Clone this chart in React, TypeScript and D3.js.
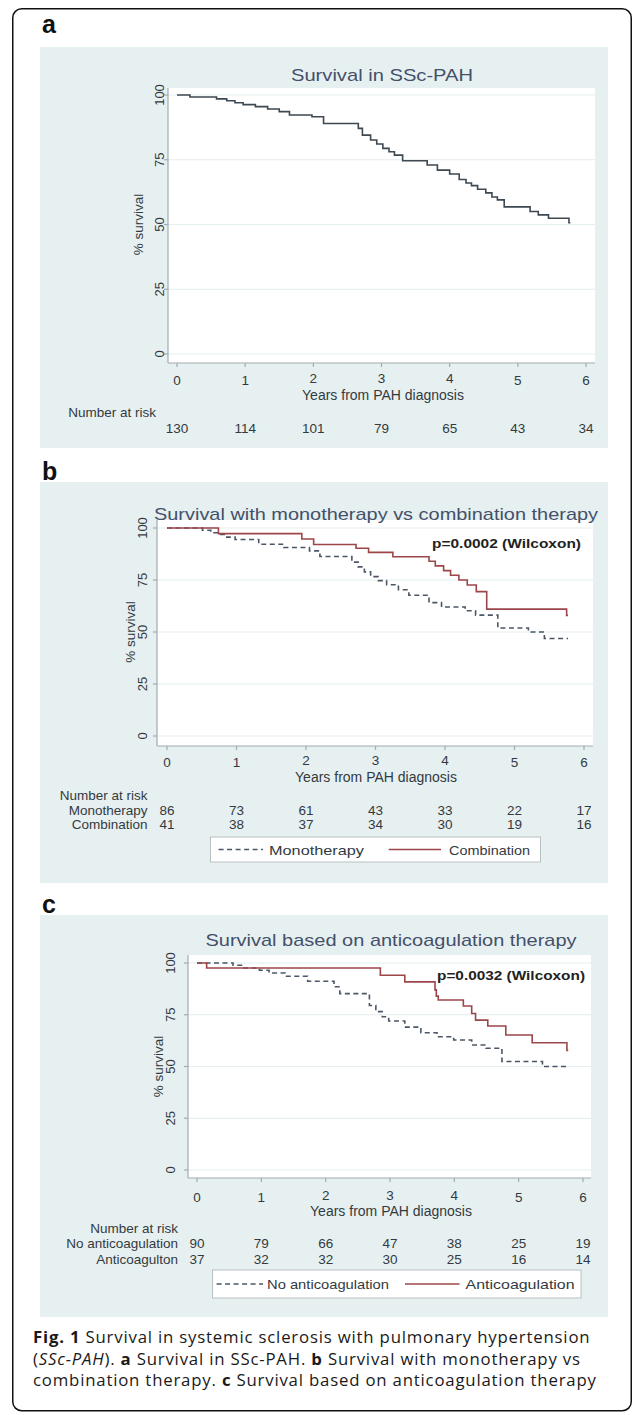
import * as d3 from "d3";

// ---- data ----
const years = [0, 1, 2, 3, 4, 5, 6];
const yTicks = [0, 25, 50, 75, 100];

const riskAll = [130, 114, 101, 79, 65, 43, 34];
const riskMono = [86, 73, 61, 43, 33, 22, 17];
const riskCombo = [41, 38, 37, 34, 30, 19, 16];
const riskNoAc = [90, 79, 66, 47, 38, 25, 19];
const riskAc = [37, 32, 32, 30, 25, 16, 14];

// Kaplan-Meier steps: [years, % survival]
const kmAll: [number, number][] = [
  [0, 100], [0.19, 99.2], [0.58, 98.5], [0.73, 97.8], [0.85, 97.0], [0.97, 96.3],
  [1.15, 95.5], [1.33, 94.6], [1.5, 93.6], [1.65, 92.3], [1.98, 91.6], [2.15, 89.0],
  [2.66, 87.1], [2.72, 84.5], [2.84, 82.6], [2.93, 81.1], [3.02, 79.4], [3.11, 78.1],
  [3.19, 76.8], [3.31, 74.6], [3.67, 73.0], [3.82, 71.0], [4.0, 69.5], [4.14, 67.4],
  [4.24, 66.0], [4.32, 65.0], [4.41, 63.6], [4.53, 62.2], [4.62, 60.6], [4.7, 59.5],
  [4.8, 56.8], [5.18, 55.0], [5.3, 53.7], [5.45, 52.4], [5.75, 50.7], [5.77, 50.7],
];
const kmMono: [number, number][] = [
  [0, 100], [0.51, 98.9], [0.63, 97.7], [0.77, 96.9], [0.86, 95.6], [0.98, 94.5],
  [1.32, 92.2], [1.68, 90.6], [2.05, 89.0], [2.2, 86.3], [2.66, 83.6], [2.75, 81.3],
  [2.84, 78.9], [2.93, 76.6], [3.04, 74.7], [3.16, 72.7], [3.33, 70.3], [3.48, 67.7],
  [3.77, 64.1], [3.95, 62.0], [4.29, 60.2], [4.44, 58.1], [4.76, 51.9], [5.2, 50.0],
  [5.43, 46.9], [5.77, 46.9],
];
const kmCombo: [number, number][] = [
  [0, 100], [0.74, 97.3], [1.94, 94.7], [2.11, 92.1], [2.72, 90.3], [2.9, 88.3],
  [3.25, 86.2], [3.77, 84.0], [3.86, 81.8], [3.98, 79.5], [4.08, 77.3], [4.2, 75.0],
  [4.32, 72.6], [4.45, 69.4], [4.6, 61.0], [5.75, 58.0], [5.77, 58.0],
];
const kmNoAc: [number, number][] = [
  [0, 100], [0.56, 98.9], [0.71, 97.6], [0.97, 96.5], [1.12, 95.2], [1.37, 93.6],
  [1.72, 91.2], [2.13, 88.5], [2.22, 85.2], [2.68, 79.5], [2.78, 76.5], [2.88, 74.0],
  [2.98, 72.0], [3.23, 69.0], [3.48, 66.3], [3.73, 64.4], [3.99, 62.8], [4.27, 60.4],
  [4.49, 58.8], [4.74, 52.4], [5.37, 50.0], [5.77, 50.0],
];
const kmAc: [number, number][] = [
  [0, 100], [0.15, 97.6], [2.85, 94.1], [3.23, 90.9], [3.7, 87.0], [3.72, 84.0],
  [3.75, 82.1], [4.14, 79.2], [4.27, 75.6], [4.33, 72.4], [4.52, 69.6], [4.8, 65.2],
  [5.21, 61.5], [5.75, 57.7], [5.77, 57.7],
];

const STATA = "'Liberation Sans', Arial, Helvetica, sans-serif";
const BG = "#e7f0f1";
const GRID = "#e4edef";
const AXIS = "#a2abaf";
const INK = "#333a3f";
const TITLE = "#44506a";
const NAVY = "#4b5766";
const RED = "#9c4649";

type Series = { data: [number, number][]; color: string; dash?: string };
type RiskRow = { label: string; values: number[]; y: number };
type Legend = {
  box: [number, number, number, number];
  items: { x0: number; x1: number; tx: number; tw: number; label: string; color: string; dash?: string }[];
};
type PanelProps = {
  letter: string;
  letterY: number;
  bg: [number, number, number, number];
  plot: [number, number, number, number];
  xr: [number, number];
  yr: [number, number];
  title: string;
  titleX: number;
  titleY: number;
  titleW: number;
  pval?: { text: string; x: number; y: number; w: number };
  xTickY: number;
  xTitleX: number;
  xTitleY: number;
  yTickX: number;
  yTitleX: number;
  riskRight: number;
  riskHeaderY: number;
  rows: RiskRow[];
  legend?: Legend;
  series: Series[];
};

function Panel(p: PanelProps) {
  const x = d3.scaleLinear().domain([0, 6]).range(p.xr);
  const y = d3.scaleLinear().domain([0, 100]).range(p.yr);
  const line = d3
    .line<[number, number]>()
    .x((d) => x(d[0]))
    .y((d) => y(d[1]))
    .curve(d3.curveStepAfter);
  const [px0, py0, px1, py1] = p.plot;
  const yMid = (p.yr[0] + p.yr[1]) / 2;

  return (
    <g fontFamily={STATA}>
      <text x={42} y={p.letterY} fontFamily="Arial, 'Liberation Sans', sans-serif" fontWeight={700} fontSize={25} fill="#111">
        {p.letter}
      </text>
      <rect x={p.bg[0]} y={p.bg[1]} width={p.bg[2] - p.bg[0]} height={p.bg[3] - p.bg[1]} fill={BG} />
      <rect x={px0} y={py0} width={px1 - px0} height={py1 - py0} fill="#fff" />

      {yTicks.map((t) => (
        <line key={"g" + t} x1={px0} x2={px1} y1={y(t)} y2={y(t)} stroke={GRID} strokeWidth={1.2} />
      ))}

      {/* axes */}
      <line x1={px0} x2={px0} y1={py0} y2={py1} stroke={AXIS} strokeWidth={1.2} />
      <line x1={px0} x2={px1} y1={py1} y2={py1} stroke={AXIS} strokeWidth={1.2} />
      {yTicks.map((t) => (
        <g key={"y" + t}>
          <line x1={px0 - 4} x2={px0} y1={y(t)} y2={y(t)} stroke={AXIS} strokeWidth={1.2} />
          <text
            transform={`translate(${p.yTickX},${y(t)}) rotate(-90)`}
            textAnchor="middle"
            fontSize={13}
            fill={INK}
          >
            {t}
          </text>
        </g>
      ))}
      <text transform={`translate(${p.yTitleX},${yMid}) rotate(-90)`} textAnchor="middle" fontSize={13.5} fill={INK}>
        % survival
      </text>
      {years.map((t) => (
        <g key={"x" + t}>
          <line x1={x(t)} x2={x(t)} y1={py1} y2={py1 + 4} stroke={AXIS} strokeWidth={1.2} />
          <text x={x(t)} y={p.xTickY - (t >= 2 && t <= 4 ? 2 : 0)} textAnchor="middle" fontSize={13.5} fill={INK}>
            {t}
          </text>
        </g>
      ))}
      <text x={p.xTitleX} y={p.xTitleY + 2} textAnchor="middle" fontSize={14} fill={INK}>
        Years from PAH diagnosis
      </text>

      <text
        x={p.titleX}
        y={p.titleY}
        textAnchor="middle"
        fontSize={17}
        fill={TITLE}
        textLength={p.titleW}
        lengthAdjust="spacingAndGlyphs"
      >
        {p.title}
      </text>

      {p.series.map((s, i) => (
        <path
          key={"s" + i}
          d={line(s.data) ?? ""}
          fill="none"
          stroke={s.color}
          strokeWidth={1.6}
          strokeDasharray={s.dash}
        />
      ))}

      {p.pval && (
        <text
          x={p.pval.x}
          y={p.pval.y}
          fontSize={13.5}
          fontWeight={700}
          fill="#222"
          textLength={p.pval.w}
          lengthAdjust="spacingAndGlyphs"
        >
          {p.pval.text}
        </text>
      )}

      {/* number at risk table */}
      <text x={p.riskRight} y={p.riskHeaderY} textAnchor="end" fontSize={13.5} fill={INK}>
        Number at risk
      </text>
      {p.rows.map((r) => (
        <g key={"r" + r.y}>
          {r.label && (
            <text x={p.riskRight} y={r.y} textAnchor="end" fontSize={13.5} fill={INK}>
              {r.label}
            </text>
          )}
          {r.values.map((v, i) => (
            <text key={i} x={x(years[i])} y={r.y} textAnchor="middle" fontSize={13.5} fill={INK}>
              {v}
            </text>
          ))}
        </g>
      ))}

      {p.legend && (
        <g>
          <rect
            x={p.legend.box[0]}
            y={p.legend.box[1]}
            width={p.legend.box[2] - p.legend.box[0]}
            height={p.legend.box[3] - p.legend.box[1]}
            fill="#fff"
            stroke="#b9c0c3"
            strokeWidth={1}
          />
          {p.legend.items.map((it) => {
            const cy = (p.legend!.box[1] + p.legend!.box[3]) / 2;
            return (
              <g key={it.label}>
                <line x1={it.x0} x2={it.x1} y1={cy} y2={cy} stroke={it.color} strokeWidth={1.5} strokeDasharray={it.dash} />
                <text
                  x={it.tx}
                  y={cy + 5}
                  fontSize={13.5}
                  fill={INK}
                  textLength={it.tw}
                  lengthAdjust="spacingAndGlyphs"
                >
                  {it.label}
                </text>
              </g>
            );
          })}
        </g>
      )}
    </g>
  );
}

export default function App() {
  const dash = "5,3.5";
  return (
    <svg
      width={634}
      height={1415}
      viewBox="0 0 634 1415"
      style={{ position: "absolute", left: 0, top: 0, display: "block", background: "#fff" }}
    >
      <rect x={12.75} y={8.75} width={618.5} height={1402} rx={9} fill="none" stroke="#111" strokeWidth={1.5} />

      <Panel
        letter="a"
        letterY={33}
        bg={[40, 47, 608, 448]}
        plot={[168, 88, 595, 363]}
        xr={[177, 586]}
        yr={[354, 95]}
        title="Survival in SSc-PAH"
        titleX={382}
        titleY={81}
        titleW={182}
        xTickY={385}
        xTitleX={383}
        xTitleY={398}
        yTickX={164}
        yTitleX={143}
        riskRight={156}
        riskHeaderY={417}
        rows={[{ label: "", values: riskAll, y: 433 }]}
        series={[{ data: kmAll, color: "#3e4852" }]}
      />

      <Panel
        letter="b"
        letterY={480}
        bg={[40, 482, 608, 883]}
        plot={[157, 520, 593, 746]}
        xr={[167, 584]}
        yr={[736, 528]}
        title="Survival with monotherapy vs combination therapy"
        titleX={376}
        titleY={520}
        titleW={444}
        pval={{ text: "p=0.0002 (Wilcoxon)", x: 432, y: 548, w: 149 }}
        xTickY={767}
        xTitleX={376}
        xTitleY={780}
        yTickX={147}
        yTitleX={135}
        riskRight={147.5}
        riskHeaderY={800}
        rows={[
          { label: "Monotherapy", values: riskMono, y: 815 },
          { label: "Combination", values: riskCombo, y: 829 },
        ]}
        legend={{
          box: [210.5, 837, 540.5, 862],
          items: [
            { x0: 218.6, x1: 263, tx: 269, tw: 95, label: "Monotherapy", color: NAVY, dash },
            { x0: 388.7, x1: 441, tx: 449, tw: 81, label: "Combination", color: RED },
          ],
        }}
        series={[
          { data: kmMono, color: NAVY, dash },
          { data: kmCombo, color: RED },
        ]}
      />

      <Panel
        letter="c"
        letterY={913}
        bg={[40, 915, 608, 1317]}
        plot={[188, 955, 591, 1178]}
        xr={[197, 583]}
        yr={[1170, 963]}
        title="Survival based on anticoagulation therapy"
        titleX={391}
        titleY={946}
        titleW={371}
        pval={{ text: "p=0.0032 (Wilcoxon)", x: 437, y: 980, w: 148 }}
        xTickY={1202}
        xTitleX={391}
        xTitleY={1214}
        yTickX={175}
        yTitleX={163}
        riskRight={178}
        riskHeaderY={1233}
        rows={[
          { label: "No anticoagulation", values: riskNoAc, y: 1248 },
          { label: "Anticoagulton", values: riskAc, y: 1264 },
        ]}
        legend={{
          box: [212.5, 1270, 581, 1298],
          items: [
            { x0: 216.6, x1: 263, tx: 267, tw: 122, label: "No anticoagulation", color: NAVY, dash },
            { x0: 405, x1: 459.5, tx: 465.6, tw: 109, label: "Anticoagulation", color: RED },
          ],
        }}
        series={[
          { data: kmNoAc, color: NAVY, dash },
          { data: kmAc, color: RED },
        ]}
      />

      <g fontFamily="'Open Sans', 'Noto Sans', sans-serif" fontSize={16.8} letterSpacing={0.8} fill="#1a1a1a">
        <text x={33} y={1343}>
          <tspan fontWeight={700}>Fig. 1</tspan> Survival in systemic sclerosis with pulmonary hypertension
        </text>
        <text x={33} y={1364.5}>
          (<tspan fontStyle="italic">SSc-PAH</tspan>). <tspan fontWeight={700}>a</tspan> Survival in SSc-PAH.{" "}
          <tspan fontWeight={700}>b</tspan> Survival with monotherapy vs
        </text>
        <text x={33} y={1386}>
          combination therapy. <tspan fontWeight={700}>c</tspan> Survival based on anticoagulation therapy
        </text>
      </g>
    </svg>
  );
}
